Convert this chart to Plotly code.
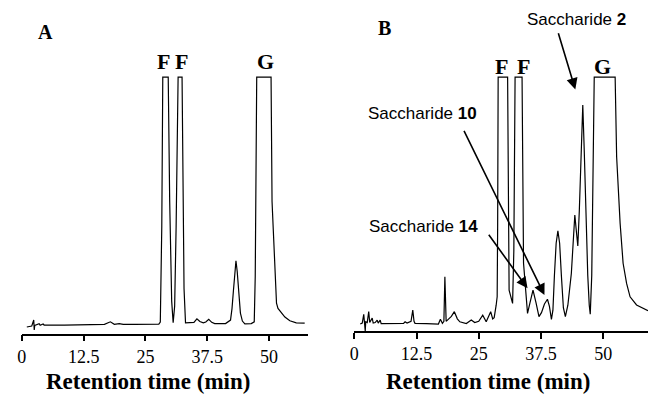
import plotly.graph_objects as go

# ---------------- data (retention time in min, detector signal in arbitrary units, 100 = detector limit) -------------
time_a = [1.0, 2.0, 2.4, 2.5, 2.6, 3.5, 3.7, 4.3, 4.5, 8.6, 12.7, 16.7, 17.9, 18.7, 19.7, 20.5, 22.7, 25.1, 27.7,
          28.0, 28.3, 28.5, 29.6, 29.9, 30.3, 30.6, 30.9, 31.2, 31.6, 32.4, 32.6, 32.8, 33.1,
          34.3, 34.8, 35.4, 36.0, 36.7, 37.2, 37.8, 38.4, 39.0, 40.1, 41.2,
          42.2, 42.5, 42.8, 43.05, 43.3, 43.55, 43.8, 44.2, 44.6, 45.1, 46.4,
          47.0, 47.2, 47.35, 47.5, 50.4, 50.6, 50.85, 51.2, 51.5, 51.8, 52.5, 53.2, 54.2, 55.5, 57.2]
signal_a = [-0.4, 0.0, 2.4, -1.6, 0.2, 0.9, 0.3, 0.8, 0.4, 0.4, 0.6, 0.7, 1.7, 0.7, 1.0, 0.7, 0.7, 0.8, 0.8,
            1.6, 40, 100, 100, 50, 10, 1.3, 8, 40, 100, 100, 60, 15, 1.3,
            1.3, 1.5, 2.9, 1.8, 1.3, 1.6, 2.7, 1.5, 1.0, 1.1, 1.0,
            2.4, 7, 14.5, 22, 26.2, 22, 14.5, 5.2, 2.0, 0.9, 1.0,
            1.7, 20, 70, 100, 100, 50, 38.6, 25.3, 9.2, 7.1, 5.1, 3.6, 2.1, 1.3, 1.2]

time_b = [1.2, 1.6, 1.9, 2.1, 2.2, 2.3, 2.6, 2.9, 3.1, 3.6, 3.8, 4.2, 4.6, 4.8, 5.2, 5.4, 7.0, 9.9, 10.2, 10.6,
          11.4, 11.75, 12.0, 12.2, 14.5, 16.9, 17.3, 17.7, 18.0, 18.2, 18.45, 18.9, 19.5, 20.1, 20.7, 21.2,
          22.5, 23.5, 24.2, 25.0, 25.8, 26.5, 27.4, 27.8, 28.1, 28.5, 28.7, 28.8, 28.9,
          30.8, 31.1, 31.8, 32.05, 32.3, 33.7, 34.0, 34.5, 34.8, 35.3, 35.9, 36.5, 37.1,
          37.6, 38.2, 38.8, 39.2, 39.6, 39.9, 40.2, 40.55, 40.9, 41.25, 41.6, 42.0, 42.4,
          42.9, 43.6, 44.0, 44.3, 44.6, 44.9, 45.2, 45.55, 45.9, 46.2, 46.5, 46.9, 47.2, 47.4,
          47.7, 47.95, 48.2, 52.4, 52.7, 53.4, 54.0, 54.7, 55.4, 56.7, 58.7, 59.0]
signal_b = [0.4, 0.8, 4.3, 0.5, -2.4, 1.3, 1.0, 5.4, 1.0, 2.8, 0.8, 1.0, 2.0, 0.8, 2.0, 0.6, 0.6, 0.7, 1.3, 0.8,
            1.5, 6.0, 1.5, 0.7, 0.6, 0.4, 2.3, 0.7, 1.5, 19.5, 1.5, 2.3, 3.5, 5.4, 2.5, 1.3,
            0.6, 2.0, 1.0, 1.5, 4.0, 1.3, 5.4, 2.5, 3.0, 8, 11.4, 40, 100,
            100, 14.1, 8.7, 30, 100, 100, 24.9, 14.1, 4.7, 9, 14.1, 9, 3.4,
            5, 8.5, 10.4, 7.5, 2.3, 6, 20, 33, 38, 33, 20, 7, 3.4,
            8, 20.8, 36, 44.4, 38, 31.9, 46, 70, 88.7, 70, 46, 20, 8, 4.4,
            20, 70, 100, 100, 67.9, 41.0, 24.9, 16.8, 11.4, 8.1, 6.0, 5.8]

tick_vals = [0, 12.5, 25, 37.5, 50]
tick_text = ["0", "12.5", "25", "37.5", "50"]
axis_title = "Retention time (min)"

SERIF = "Liberation Serif, Times New Roman, serif"
SANS = "Liberation Sans, Arial, sans-serif"

fig = go.Figure()
fig.add_trace(go.Scatter(x=time_a, y=signal_a, mode="lines", xaxis="x", yaxis="y",
                         line=dict(color="black", width=1.2), showlegend=False, hoverinfo="skip"))
fig.add_trace(go.Scatter(x=time_b, y=signal_b, mode="lines", xaxis="x2", yaxis="y2",
                         line=dict(color="black", width=1.2), showlegend=False, hoverinfo="skip"))

xcommon = dict(showgrid=False, zeroline=False, showline=True, linecolor="black", linewidth=1.5,
               ticks="outside", ticklen=6, tickwidth=1.5, tickcolor="black",
               tickvals=tick_vals, ticktext=tick_text,
               tickfont=dict(family=SERIF, size=18, color="black"))
ycommon = dict(visible=False, showgrid=False, zeroline=False)

fig.update_layout(
    width=648, height=394, margin=dict(l=0, r=0, t=0, b=0),
    paper_bgcolor="white", plot_bgcolor="white",
    xaxis=dict(domain=[17/648, 305/648], range=[0, 57.8], anchor="y", **xcommon),
    yaxis=dict(domain=[(394-333.5)/394, (394-22.25)/394], range=[-3, 122], anchor="x", **ycommon),
    xaxis2=dict(domain=[352/648, 1.0], range=[0, 59.0], anchor="y2", **xcommon),
    yaxis2=dict(domain=[(394-331)/394, (394-22.5)/394], range=[-2.4, 122], anchor="x2", **ycommon),
)

ann = []
def lab(text, x, y, xref, yref, size, family=SERIF):
    ann.append(dict(text=text, x=x, y=y, xref=xref, yref=yref, showarrow=False,
                    font=dict(family=family, size=size, color="black"),
                    xanchor="center", yanchor="middle"))

# panel A
lab("<b>A</b>", 4.7, 118.1, "x", "y", 20)
lab("<b>F</b>", 28.6, 106.4, "x", "y", 22)
lab("<b>F</b>", 32.2, 106.4, "x", "y", 22)
lab("<b>G</b>", 49.2, 106.4, "x", "y", 22)
# panel B
lab("<b>B</b>", 6.0, 119.6, "x2", "y2", 20)
lab("<b>F</b>", 29.5, 104.4, "x2", "y2", 22)
lab("<b>F</b>", 33.9, 104.4, "x2", "y2", 22)
lab("<b>G</b>", 49.9, 104.4, "x2", "y2", 22)
lab("Saccharide <b>2</b>", 575.7/648, (394-19.5)/394, "paper", "paper", 17, SANS)
lab("Saccharide <b>10</b>", 13.7, 85.5, "x2", "y2", 17, SANS)
lab("Saccharide <b>14</b>", 14.0, 39.6, "x2", "y2", 17, SANS)

# axis titles
lab("<b>" + axis_title + "</b>", 144/648, (394-381)/394, "paper", "paper", 23)
lab("<b>" + axis_title + "</b>", 486.5/648, (394-381)/394, "paper", "paper", 23)

# arrows (tail -> head, in data units of panel B)
for (tx, ty, hx, hy) in [(40.9, 118.3, 44.4, 95.0), (21.9, 78.9, 38.2, 12.1), (26.8, 37.0, 34.8, 14.8)]:
    ann.append(dict(x=hx, y=hy, ax=tx, ay=ty, xref="x2", yref="y2", axref="x2", ayref="y2",
                    text="", showarrow=True, arrowhead=2, arrowsize=1.4, arrowwidth=1.6,
                    arrowcolor="black"))

fig.update_layout(annotations=ann)
fig.write_html("out.html")
